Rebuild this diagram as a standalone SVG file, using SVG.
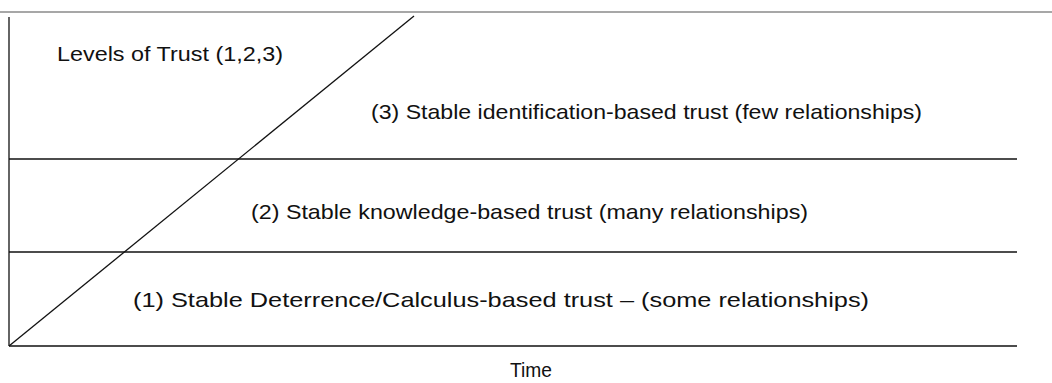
<svg xmlns="http://www.w3.org/2000/svg" width="1052" height="383" viewBox="0 0 1052 383">
<style>
.ln{stroke:#111;stroke-width:1.3;fill:none}
.t{font-family:"Liberation Sans",Arial,sans-serif;font-size:21px;fill:#111}
</style>
<rect width="1052" height="383" fill="#fff"/>
<line x1="0" y1="12" x2="1052" y2="12" stroke="#8a8a8a" stroke-width="1.6"/>
<g id="connectors">
<line class="ln" x1="9" y1="17" x2="9" y2="346"/>
<line class="ln" x1="9" y1="346" x2="1017" y2="346"/>
<line class="ln" x1="9" y1="252" x2="1017" y2="252"/>
<line class="ln" x1="9" y1="159" x2="1017" y2="159"/>
<line class="ln" x1="9" y1="346" x2="414" y2="16"/>
</g>
<g id="title"><text class="t" x="57" y="61" textLength="226" lengthAdjust="spacingAndGlyphs">Levels of Trust (1,2,3)</text></g>
<g id="level3"><text class="t" x="371" y="119" textLength="551" lengthAdjust="spacingAndGlyphs">(3) Stable identification-based trust (few relationships)</text></g>
<g id="level2"><text class="t" x="251" y="219" textLength="557" lengthAdjust="spacingAndGlyphs">(2) Stable knowledge-based trust (many relationships)</text></g>
<g id="level1"><text class="t" x="133" y="307" textLength="736" lengthAdjust="spacingAndGlyphs">(1) Stable Deterrence/Calculus-based trust – (some relationships)</text></g>
<g id="time"><text class="t" x="510" y="377" textLength="42" lengthAdjust="spacingAndGlyphs">Time</text></g>
</svg>
